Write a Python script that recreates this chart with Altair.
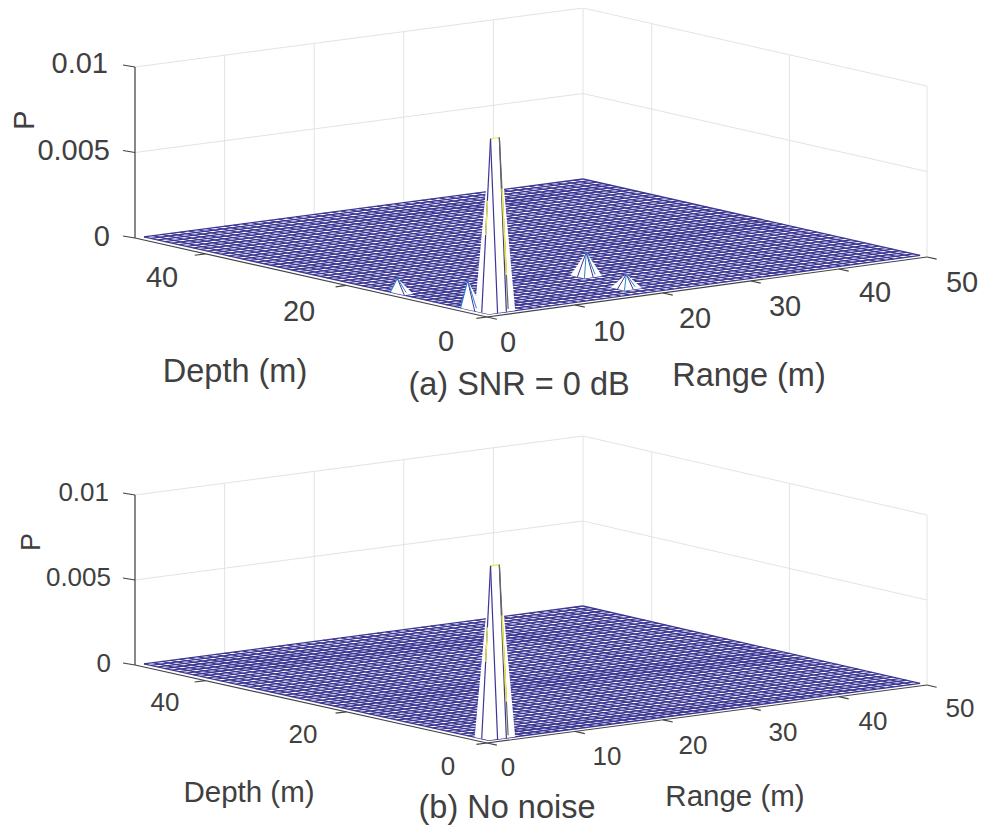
import altair as alt
import pandas as pd

# ---- values ----
RANGE_GRID = list(range(1, 51))
DEPTH_GRID = list(range(1, 51))
RANGE_TICKS = [0, 10, 20, 30, 40, 50]
DEPTH_TICKS = [0, 20, 40]
P_TICKS = [0, 0.005, 0.01]
P_LABELS = ["0", "0.005", "0.01"]
# (range index, depth index, P) of the non-zero surface points
PEAK_MAIN = [(2, 2, 0.0101), (3, 2, 0.0101)]
PEAKS_A_SMALL = [(1, 4, 0.0017), (1, 14, 0.0009), (20, 11, 0.00137), (19, 4, 0.0008)]
TITLES = ["(a) SNR = 0 dB", "(b) No noise"]

# ---- view / layout of each 3-D panel ----
PANELS = [
    dict(F=(487, 317), R=(927, 257), L=(135, 238), B=(583, 179), zs=171,
         small=PEAKS_A_SMALL, title=TITLES[0], fs_tick=29, fs_lab=32.5, fs_title=32.5, fs_p=29,
         title_at=(519, 385), depth_at=(235, 372), range_at=(749, 376), p_at=(25, 120),
         p_lab=[(110, 237), (110, 151), (108, 64)],
         d_lab=[(446, 342), (299, 312), (162, 278)],
         r_lab=[(508, 343), (609, 332), (695, 319), (785, 307), (875, 293), (962, 283)]),
    dict(F=(487, 743), R=(927, 685), L=(135, 665), B=(583, 606), zs=170,
         small=[], title=TITLES[1], fs_tick=26, fs_lab=29.5, fs_title=32.5, fs_p=27,
         title_at=(507, 808), depth_at=(249, 793), range_at=(735, 797), p_at=(32, 542),
         p_lab=[(111, 664), (111, 578), (109, 493)],
         d_lab=[(448, 767), (303, 735), (165, 703)],
         r_lab=[(508, 768), (607, 757), (693, 746), (783, 733), (873, 722), (960, 709)]),
]
RMAX, DMAX = 50.0, 50.0
DARK, MESH, WALL, INK = "#444444", "#3c3794", "#e3e3e3", "#404040"
YELLOW, BLUE = "#f2ee40", "#2f7fd0"


def project(p, r, d, z=0.0):
    u, v = r / RMAX, d / DMAX
    def mix(i):
        return ((1 - u) * (1 - v) * p["F"][i] + u * (1 - v) * p["R"][i]
                + (1 - u) * v * p["L"][i] + u * v * p["B"][i])
    return mix(0), mix(1) - z / 0.01 * p["zs"]


rules_back, rules_mesh, rules_top, areas, texts = [], [], [], [], []


def seg(store, a, b, color, w):
    store.append(dict(x=a[0], y=a[1], x2=b[0], y2=b[1], color=color, w=w))


def hull_area(pts, gid):
    xs = sorted({round(q[0], 3) for q in pts})
    def env(sign):
        s = sorted(pts)
        h = []
        for q in s:
            while len(h) >= 2:
                (x1, y1), (x2, y2) = h[-2], h[-1]
                if sign * ((x2 - x1) * (q[1] - y1) - (y2 - y1) * (q[0] - x1)) <= 0:
                    h.pop()
                else:
                    break
            h.append(q)
        return h
    lo, up = env(1), env(-1)
    def at(h, x):
        for (a, b) in zip(h, h[1:]):
            if a[0] - 1e-6 <= x <= b[0] + 1e-6:
                if b[0] == a[0]:
                    return a[1]
                return a[1] + (b[1] - a[1]) * (x - a[0]) / (b[0] - a[0])
        return h[-1][1]
    for x in xs:
        areas.append(dict(x=x, y=at(up, x), y2=at(lo, x), gid=gid))


for n, p in enumerate(PANELS):
    # walls
    for r in RANGE_TICKS:
        seg(rules_back, project(p, r, DMAX), project(p, r, DMAX, 0.01), WALL, 1)
    for d in DEPTH_TICKS:
        seg(rules_back, project(p, RMAX, d), project(p, RMAX, d, 0.01), WALL, 1)
    for z in P_TICKS[1:]:
        seg(rules_back, project(p, 0, DMAX, z), project(p, RMAX, DMAX, z), WALL, 1)
        seg(rules_back, project(p, RMAX, DMAX, z), project(p, RMAX, 0, z), WALL, 1)
    # surface mesh
    for r in RANGE_GRID:
        seg(rules_mesh, project(p, r, DEPTH_GRID[0]), project(p, r, DEPTH_GRID[-1]), MESH, 1.3)
    for d in DEPTH_GRID:
        seg(rules_mesh, project(p, RANGE_GRID[0], d), project(p, RANGE_GRID[-1], d), MESH, 1.3)
    # axes
    seg(rules_top, project(p, 0, DMAX), project(p, 0, DMAX, 0.01), DARK, 1.2)
    seg(rules_top, project(p, 0, DMAX), project(p, 0, 0), DARK, 1.2)
    seg(rules_top, project(p, 0, 0), project(p, RMAX, 0), DARK, 1.2)
    for z in P_TICKS:
        a = project(p, 0, DMAX, z)
        seg(rules_top, a, (a[0] - 12, a[1] - 2), DARK, 1.2)
    for r in RANGE_TICKS:
        seg(rules_top, project(p, r, 0), project(p, r, -1.4), DARK, 1.2)
    for d in DEPTH_TICKS:
        seg(rules_top, project(p, 0, d), project(p, -1.2, d), DARK, 1.2)

    # main peak
    gid = f"{n}-main"
    pts = [project(p, r, d, z) for r, d, z in PEAK_MAIN]
    for r in (1, 2, 3, 4):
        for d in (1, 2, 3):
            if (r, d) not in [(q[0], q[1]) for q in PEAK_MAIN]:
                pts.append(project(p, r, d))
    hull_area(pts, gid)
    (r1, d1, z1), (r2, d2, z2) = PEAK_MAIN
    ap1, ap2 = project(p, r1, d1, z1), project(p, r2, d2, z2)
    seg(rules_top, ap1, ap2, YELLOW, 1.2)
    seg(rules_top, ap1, project(p, r1 - 1, d1), MESH, 1.2)
    seg(rules_top, ap1, project(p, r1, d1 - 1), MESH, 1.2)
    seg(rules_top, ap2, project(p, r2, d2 - 1), MESH, 1.2)
    seg(rules_top, ap2, project(p, r2 + 1, d2), "#6a6a5a", 1.2)
    # yellow stretches of the same edges, at the height where they show up
    seg(rules_top, project(p, r2 + 0.3, d2, 0.0071), project(p, r2 + 0.8, d2, 0.0020), YELLOW, 1.4)
    seg(rules_top, project(p, r1 - 0.55, d1, 0.0045), project(p, r1 - 0.35, d1, 0.0065), YELLOW, 1.2)

    # small peaks
    for i, (r, d, z) in enumerate(p["small"]):
        ap = project(p, r, d, z)
        pts = [ap]
        for dr in (-1, 0, 1):
            for dd in (-1, 0, 1):
                if (dr, dd) != (0, 0) and r + dr >= 1:
                    pts.append(project(p, r + dr, d + dd))
        hull_area(pts, f"{n}-{i}")
        if r > 1:
            seg(rules_top, ap, project(p, r - 1, d), MESH, 1)
            seg(rules_top, ap, project(p, r - 1, d - 1), BLUE, 1)
        else:
            seg(rules_top, ap, project(p, r, d + 1), BLUE, 1.2)
        seg(rules_top, ap, project(p, r, d - 1), MESH, 1)
        seg(rules_top, ap, project(p, r + 1, d), BLUE, 1)

    # text
    for (xy, s) in zip(p["p_lab"], P_LABELS):
        texts.append(dict(x=xy[0], y=xy[1], t=s, fs=p["fs_tick"], al="right", an=0))
    for (xy, s) in zip(p["d_lab"], DEPTH_TICKS):
        texts.append(dict(x=xy[0], y=xy[1], t=str(s), fs=p["fs_tick"], al="center", an=0))
    for (xy, s) in zip(p["r_lab"], RANGE_TICKS):
        texts.append(dict(x=xy[0], y=xy[1], t=str(s), fs=p["fs_tick"], al="center", an=0))
    texts.append(dict(x=p["depth_at"][0], y=p["depth_at"][1], t="Depth (m)", fs=p["fs_lab"], al="center", an=0))
    texts.append(dict(x=p["range_at"][0], y=p["range_at"][1], t="Range (m)", fs=p["fs_lab"], al="center", an=0))
    texts.append(dict(x=p["title_at"][0], y=p["title_at"][1], t=p["title"], fs=p["fs_title"], al="center", an=0))
    texts.append(dict(x=p["p_at"][0], y=p["p_at"][1], t="P", fs=p["fs_p"], al="center", an=270))

W, H = 971, 817
X = alt.X("x:Q", scale=alt.Scale(domain=[8, 8 + W], nice=False, zero=False), axis=None)
Y = alt.Y("y:Q", scale=alt.Scale(domain=[8 + H, 8], nice=False, zero=False), axis=None)


def rule_layer(rows):
    return alt.Chart(pd.DataFrame(rows)).mark_rule().encode(
        x=X, y=Y, x2="x2:Q", y2="y2:Q",
        color=alt.Color("color:N", scale=None),
        strokeWidth=alt.StrokeWidth("w:Q", scale=None),
    )


area_layer = alt.Chart(pd.DataFrame(areas)).mark_area(color="white", opacity=1).encode(
    x=X, y=Y, y2="y2:Q", detail="gid:N"
)

tdf = pd.DataFrame(texts)
text_layers = []
for (al, an), g in tdf.groupby(["al", "an"]):
    text_layers.append(
        alt.Chart(g).mark_text(font="Liberation Sans", color=INK, align=al, baseline="middle", angle=int(an)).encode(
            x=X, y=Y, text="t:N", size=alt.Size("fs:Q", scale=None)
        )
    )

chart = alt.layer(
    rule_layer(rules_back), rule_layer(rules_mesh), area_layer, rule_layer(rules_top), *text_layers
).properties(
    width=W, height=H, padding=0, autosize=alt.AutoSizeParams(type="none")
).configure_view(stroke=None)

chart.save("out.html", embed_options={"renderer": "svg", "actions": False})
